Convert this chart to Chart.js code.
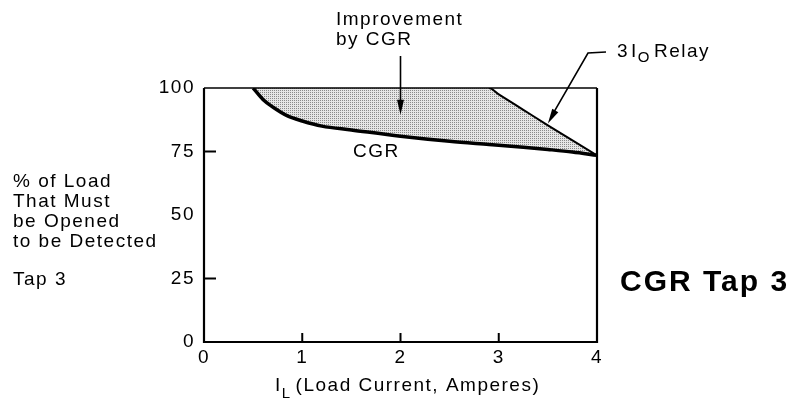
<!DOCTYPE html>
<html>
<head>
<meta charset="utf-8">
<script src="https://cdn.jsdelivr.net/npm/chart.js@4.4.1/dist/chart.umd.min.js"></script>
<style>
  html, body { margin: 0; padding: 0; background: #fff; }
  #wrap { width: 800px; height: 407px; position: relative; }
</style>
</head>
<body>
<div id="wrap"><canvas id="chart" width="800" height="407"></canvas></div>
<script>
// load current, amperes
const currentAmps = [0.5, 0.6, 0.7, 0.85, 1.0, 1.2, 1.5, 2.0, 2.5, 2.9, 3.0, 3.25, 3.5, 3.75, 4.0];
// % of load that must be opened, CGR tap 3
const cgrPercent = [100, 95.5, 92.5, 89, 87, 85, 83.5, 81, 79, 77.8, 77.5, 76.7, 75.8, 74.8, 73.5];
// % of load that must be opened, 3Io relay
const relayPercent = [100, 100, 100, 100, 100, 100, 100, 100, 100, 100, 97.5, 91.4, 85.3, 79.4, 73.5];

const xTicks = [0, 1, 2, 3, 4];
const yTicks = [0, 25, 50, 75, 100];
const innerXTicks = [1, 2, 3];
const innerYTicks = [25, 75];

const FONT = '"Liberation Sans", Arial, Helvetica, sans-serif';

function dotPattern() {
  const c = document.createElement('canvas');
  c.width = 2; c.height = 2;
  const g = c.getContext('2d');
  g.fillStyle = '#e6e6e6';
  g.fillRect(0, 0, 2, 2);
  g.fillStyle = '#8a8a8a';
  g.fillRect(0, 0, 1, 1);
  return g.createPattern(c, 'repeat');
}

function arrowHead(ctx, x0, y0, x1, y1, len, half) {
  const a = Math.atan2(y1 - y0, x1 - x0);
  ctx.beginPath();
  ctx.moveTo(x1, y1);
  ctx.lineTo(x1 - len * Math.cos(a) + half * Math.sin(a), y1 - len * Math.sin(a) - half * Math.cos(a));
  ctx.lineTo(x1 - len * Math.cos(a) - half * Math.sin(a), y1 - len * Math.sin(a) + half * Math.cos(a));
  ctx.closePath();
  ctx.fill();
}

const spacing = {
  id: 'spacing',
  beforeDraw(chart) {
    chart.ctx.letterSpacing = '1.5px';
  }
};

const decorations = {
  id: 'decorations',
  afterDraw(chart) {
    const ctx = chart.ctx;
    const area = chart.chartArea;
    const xs = chart.scales.x;
    const ys = chart.scales.y;
    ctx.save();
    ctx.strokeStyle = '#000';
    ctx.fillStyle = '#000';

    // frame
    ctx.lineWidth = 1.5;
    ctx.beginPath();
    ctx.moveTo(area.left, area.top);
    ctx.lineTo(area.right, area.top);
    ctx.stroke();
    ctx.lineWidth = 2.2;
    ctx.beginPath();
    ctx.moveTo(area.left, area.top);
    ctx.lineTo(area.left, area.bottom);
    ctx.lineTo(area.right, area.bottom);
    ctx.lineTo(area.right, area.top);
    ctx.stroke();

    // inward ticks
    ctx.lineWidth = 2;
    innerXTicks.forEach(v => {
      const px = xs.getPixelForValue(v);
      ctx.beginPath();
      ctx.moveTo(px, area.bottom);
      ctx.lineTo(px, area.bottom - 9);
      ctx.stroke();
    });
    innerYTicks.forEach(v => {
      const py = ys.getPixelForValue(v);
      ctx.beginPath();
      ctx.moveTo(area.left, py);
      ctx.lineTo(area.left + 12, py);
      ctx.stroke();
    });

    ctx.letterSpacing = '1.5px';
    ctx.font = '19px ' + FONT;
    ctx.textBaseline = 'middle';
    ctx.textAlign = 'left';

    // y axis description
    ['% of Load', 'That Must', 'be Opened', 'to be Detected'].forEach((t, i) => {
      ctx.fillText(t, 13, 182 + i * 20);
    });
    ctx.fillText('Tap 3', 13, 280);

    // curve label
    ctx.fillText('CGR', 353, 152);

    // improvement note + arrow
    ctx.fillText('Improvement', 336, 20);
    ctx.fillText('by CGR', 336, 40);
    const ax = xs.getPixelForValue(2);
    const ay = ys.getPixelForValue(89.5);
    ctx.lineWidth = 1.6;
    ctx.beginPath();
    ctx.moveTo(ax, 56);
    ctx.lineTo(ax, ay - 6);
    ctx.stroke();
    arrowHead(ctx, ax, 56, ax, ay, 15, 3.5);

    // relay note + arrow
    let x = 617;
    ctx.fillText('3', x, 52);
    x += ctx.measureText('3').width + 2;
    ctx.fillText('I', x, 52);
    x += ctx.measureText('I').width;
    ctx.font = '15px ' + FONT;
    ctx.fillText('O', x, 58);
    x += ctx.measureText('O').width + 3;
    ctx.font = '19px ' + FONT;
    ctx.fillText('Relay', x, 52);
    const rx = xs.getPixelForValue(3.5);
    const ry = ys.getPixelForValue(86);
    ctx.beginPath();
    ctx.moveTo(606, 52);
    ctx.lineTo(588, 53);
    ctx.lineTo(rx + 4, ry - 8);
    ctx.stroke();
    arrowHead(ctx, 588, 53, rx, ry, 15, 3.5);

    // x axis title with subscript
    x = 275;
    ctx.fillText('I', x, 386);
    x += ctx.measureText('I').width;
    ctx.font = '15px ' + FONT;
    ctx.fillText('L', x, 394);
    x += ctx.measureText('L').width + 4;
    ctx.font = '19px ' + FONT;
    ctx.fillText('(Load Current, Amperes)', x, 386);

    // big label
    ctx.letterSpacing = '2px';
    ctx.font = 'bold 30px ' + FONT;
    ctx.fillText('CGR Tap 3', 620, 283);

    ctx.restore();
  }
};

const data = {
  datasets: [
    {
      label: 'CGR',
      data: currentAmps.map((a, i) => ({ x: a, y: cgrPercent[i] })),
      borderColor: '#000',
      borderWidth: 3.5,
      pointRadius: 0,
      fill: false,
      cubicInterpolationMode: 'monotone'
    },
    {
      label: '3Io Relay',
      data: currentAmps.map((a, i) => ({ x: a, y: relayPercent[i] })),
      borderColor: '#000',
      borderWidth: 2,
      pointRadius: 0,
      fill: '-1',
      backgroundColor: dotPattern(),
      cubicInterpolationMode: 'monotone',
      segment: {
        borderColor: ctx => ctx.p1.parsed.y >= 100 ? 'rgba(0,0,0,0)' : '#000'
      }
    }
  ]
};

const options = {
  responsive: false,
  animation: false,
  layout: {
    padding: { left: 154, top: 88, right: 203, bottom: 35 }
  },
  plugins: {
    legend: { display: false },
    title: { display: false },
    tooltip: { enabled: false }
  },
  scales: {
    x: {
      type: 'linear',
      min: 0,
      max: 4,
      afterBuildTicks: s => { s.ticks = xTicks.map(v => ({ value: v })); },
      grid: { display: false, drawTicks: false },
      border: { display: false },
      ticks: {
        color: '#000',
        font: { size: 19, family: FONT },
        padding: 4,
        maxRotation: 0
      },
      afterFit: s => { s.height = 30; }
    },
    y: {
      type: 'linear',
      min: 0,
      max: 100,
      afterBuildTicks: s => { s.ticks = yTicks.map(v => ({ value: v })); },
      grid: { display: false, drawTicks: false },
      border: { display: false },
      ticks: {
        color: '#000',
        font: { size: 19, family: FONT },
        padding: 9
      },
      afterFit: s => { s.width = 50; }
    }
  }
};

new Chart(document.getElementById('chart'), {
  type: 'line',
  data: data,
  options: options,
  plugins: [spacing, decorations]
});
</script>
</body>
</html>
